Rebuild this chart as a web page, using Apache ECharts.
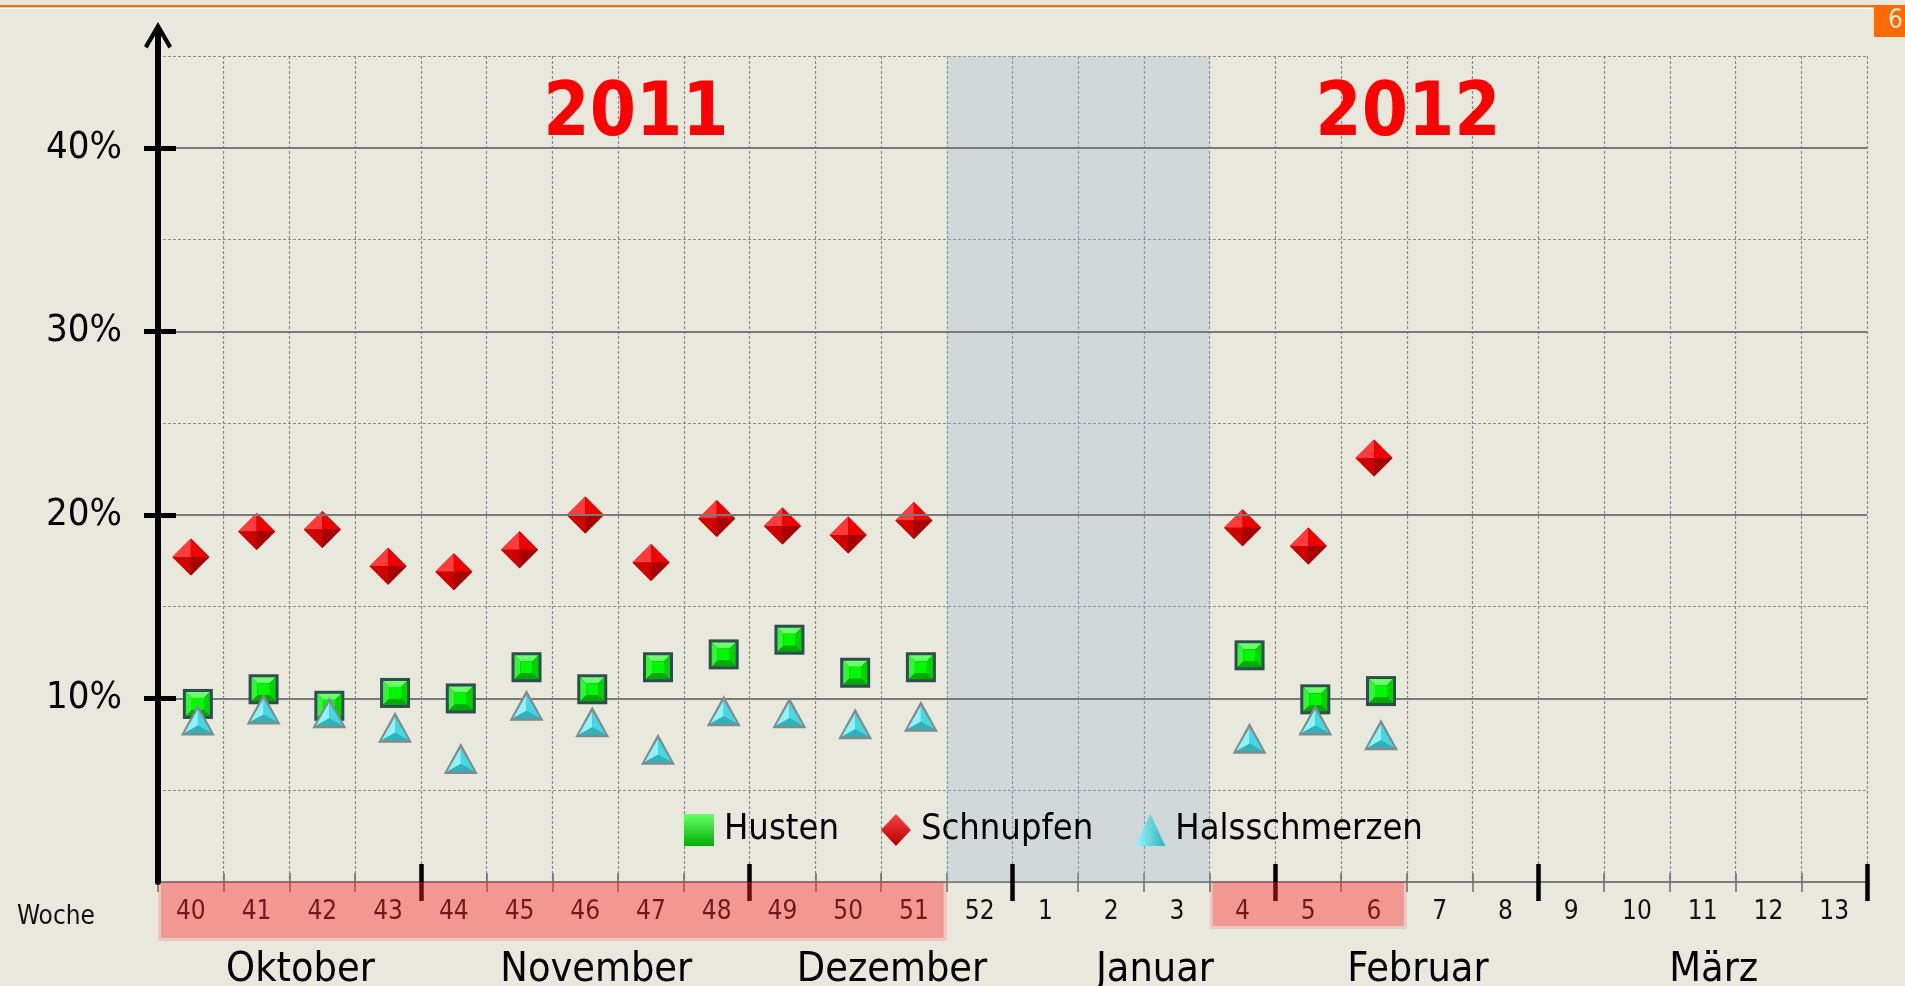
<!DOCTYPE html>
<html>
<head>
<meta charset="utf-8">
<script src="https://cdn.jsdelivr.net/npm/echarts@6/dist/echarts.min.js"></script>
<style>
  html, body { margin: 0; padding: 0; background: #e9e8dd; }
  #chart { width: 1905px; height: 986px; }
</style>
</head>
<body>
<div id="chart"></div>
<script>
// Kalenderwochen Oktober 2011 - März 2012
const weeks = ['40', '41', '42', '43', '44', '45', '46', '47', '48', '49', '50', '51', '52',
  '1', '2', '3', '4', '5', '6', '7', '8', '9', '10', '11', '12', '13']
const months = ['Oktober', 'November', 'Dezember', 'Januar', 'Februar', 'März']
// index of the week where each month starts (last entry = end of axis)
const monthStarts = [0, 4, 9, 13, 17, 21, 26]
const holidays = [12, 16] // weeks 52 .. 3
const surveyRanges = [[0, 12], [16, 19]] // weeks 40-51 and 4-6
const yTicks = [10, 20, 30, 40]

// Anteile in %
const husten = [9.7, 10.5, 9.6, 10.3, 10.0, 11.7, 10.5, 11.7, 12.4, 13.2, 11.4, 11.7,
  null, null, null, null, 12.35, 9.95, 10.4, null, null, null, null, null, null, null]
const schnupfen = [17.7, 19.1, 19.2, 17.2, 16.9, 18.1, 20.0, 17.4, 19.8, 19.4, 18.9, 19.7,
  null, null, null, null, 19.3, 18.3, 23.1, null, null, null, null, null, null, null]
const halsschmerzen = [8.8, 9.4, 9.2, 8.4, 6.7, 9.6, 8.7, 7.2, 9.3, 9.2, 8.6, 9.0,
  null, null, null, null, 7.8, 8.8, 8.0, null, null, null, null, null, null, null]

const FONT = "'DejaVu Sans Condensed', 'DejaVu Sans', sans-serif"

function toPoints(values) {
  const out = []
  values.forEach((v, i) => { if (v != null) out.push([i, v]) })
  return out
}

function poly(points, fill) {
  return { type: 'polygon', shape: { points }, style: { fill } }
}

// beveled green square
function renderSquare(params, api) {
  const p = api.coord([api.value(0), api.value(1)])
  const x = p[0] + 7, y = p[1]
  const o = 12, i = 6
  return {
    type: 'group',
    children: [
      { type: 'rect', shape: { x: x - 15, y: y - 15, width: 30, height: 30 }, style: { fill: '#2f4c50' } },
      poly([[x - o, y - o], [x + o, y - o], [x + i, y - i], [x - i, y - i]], '#6cff6c'),
      poly([[x - o, y - o], [x - i, y - i], [x - i, y + i], [x - o, y + o]], '#33f533'),
      poly([[x + o, y - o], [x + o, y + o], [x + i, y + i], [x + i, y - i]], '#00d400'),
      poly([[x - o, y + o], [x - i, y + i], [x + i, y + i], [x + o, y + o]], '#00aa00'),
      { type: 'rect', shape: { x: x - i, y: y - i, width: 2 * i, height: 2 * i }, style: { fill: '#00f800' } }
    ]
  }
}

// red pyramid diamond
function renderDiamond(params, api) {
  const p = api.coord([api.value(0), api.value(1)])
  const x = p[0], y = p[1], r = 18.5
  const top = [x, y - r], right = [x + r, y], bottom = [x, y + r], left = [x - r, y], c = [x, y]
  return {
    type: 'group',
    children: [
      poly([top, right, bottom, left], '#a00000'),
      poly([top, c, left], '#ff3b3b'),
      poly([top, right, c], '#f00000'),
      poly([left, c, bottom], '#d00000'),
      poly([c, right, bottom], '#a80000')
    ]
  }
}

// cyan pyramid triangle
function renderTriangle(params, api) {
  const p = api.coord([api.value(0), api.value(1)])
  const x = p[0] + 7, y = p[1]
  const apex = [x, y - 16], bl = [x - 17, y + 15], br = [x + 17, y + 15]
  const ia = [x, y - 11], il = [x - 13.5, y + 12.5], ir = [x + 13.5, y + 12.5], c = [x, y + 5]
  return {
    type: 'group',
    children: [
      poly([apex, bl, br], '#7f8b8c'),
      poly([ia, c, il], '#8ff4fa'),
      poly([ia, ir, c], '#44d8e4'),
      poly([il, c, ir], '#30b2bc')
    ]
  }
}

const grad = (c1, c2, vertical) => ({
  type: 'linear', x: 0, y: 0, x2: vertical ? 0 : 1, y2: vertical ? 1 : 0,
  colorStops: [{ offset: 0, color: c1 }, { offset: 1, color: c2 }]
})

const dashed = { show: true, lineStyle: { color: '#8a8a8a', width: 1.2, type: [3, 2] } }

const option = {
  animation: false,
  backgroundColor: '#e9e8dd',
  textStyle: { fontFamily: FONT },
  grid: [
    { left: 158, right: 38, top: 56, bottom: 104, outerBoundsMode: 'none', containLabel: false },
    { left: 158, right: 38, top: 36, bottom: 104, outerBoundsMode: 'none', containLabel: false }
  ],
  legend: {
    left: 679,
    top: 807,
    itemWidth: 30,
    itemHeight: 32,
    itemGap: 42,
    selectedMode: false,
    textStyle: { fontFamily: FONT, fontSize: 36, color: '#000', padding: [0, 0, 0, 5] },
    data: [
      { name: 'Husten', icon: 'rect', itemStyle: { color: grad('#66ff66', '#00b000', true) } },
      { name: 'Schnupfen', icon: 'diamond', itemStyle: { color: grad('#ff4040', '#b00000', true) } },
      { name: 'Halsschmerzen', icon: 'triangle', itemStyle: { color: grad('#9af6fb', '#2fb4bc', false) } }
    ]
  },
  xAxis: [
    {
      type: 'category', gridIndex: 0, position: 'bottom', data: weeks,
      name: 'Woche', nameLocation: 'start', nameGap: 63,
      nameTextStyle: { fontFamily: FONT, fontSize: 26, color: '#111', verticalAlign: 'top', padding: [22, 0, 0, 0] },
      axisLine: { onZero: false, lineStyle: { color: '#7c7c7c', width: 2 } },
      axisTick: { show: true, interval: 0, length: 10, lineStyle: { color: '#6a6a6a', width: 1.5 } },
      axisLabel: { interval: 0, fontFamily: FONT, fontSize: 26, color: '#111', margin: 17 },
      splitLine: { ...dashed, interval: 0 }
    },
    {
      type: 'category', gridIndex: 0, position: 'bottom', data: weeks,
      axisLine: { show: false, onZero: false },
      axisTick: { show: true, inside: true, interval: 0, length: 9, lineStyle: { color: '#6a6a6a', width: 1.5 } },
      axisLabel: { show: false },
      splitLine: { show: false }
    },
    {
      type: 'value', gridIndex: 0, position: 'bottom', offset: -18, z: 10,
      min: monthStarts[0], max: monthStarts[monthStarts.length - 1],
      axisLine: { show: false, onZero: false },
      axisTick: { show: true, customValues: monthStarts.slice(1), length: 37, lineStyle: { color: '#000', width: 4.5 } },
      axisLabel: {
        customValues: months.map((m, i) => (monthStarts[i] + monthStarts[i + 1]) / 2),
        formatter: v => months[monthStarts.findIndex((s, i) => v > s && v < monthStarts[i + 1])],
        fontFamily: FONT, fontSize: 41, color: '#000', margin: 86, padding: [0, 0, 0, 22]
      },
      splitLine: { show: false }
    },
    { type: 'value', gridIndex: 1, show: false, min: 0, max: 1 }
  ],
  yAxis: [
    {
      type: 'value', gridIndex: 0, position: 'left', min: 0, max: 45, interval: 5,
      axisLine: { show: false, onZero: false }, axisTick: { show: false }, axisLabel: { show: false },
      splitLine: dashed
    },
    {
      type: 'value', gridIndex: 0, position: 'left', min: 0, max: 45, interval: 10, z: 10,
      axisLine: { show: false, onZero: false },
      axisTick: { show: true, customValues: yTicks, length: 14, lineStyle: { color: '#000', width: 5 } },
      axisLabel: { customValues: yTicks, formatter: '{value}%', fontFamily: FONT, fontSize: 38, color: '#000', margin: 36 },
      splitLine: { show: false }
    },
    {
      type: 'value', gridIndex: 0, position: 'left', min: 0, max: 45, interval: 10, z: 10,
      axisLine: { show: false, onZero: false },
      axisTick: { show: true, inside: true, customValues: yTicks, length: 18, lineStyle: { color: '#000', width: 5 } },
      axisLabel: { show: false },
      splitLine: { show: false }
    },
    {
      type: 'value', gridIndex: 1, position: 'left', min: 0, max: 1, z: 10,
      axisLine: {
        show: true, onZero: false,
        symbol: ['none', 'path://M14,0 L28,24 L24.5,26.5 L16,12 L16,28 L12,28 L12,12 L3.5,26.5 L0,24 Z'],
        symbolSize: [29, 28],
        lineStyle: { color: '#000', width: 6 }
      },
      axisTick: { show: false }, axisLabel: { show: false }, splitLine: { show: false }
    }
  ],
  series: [
    {
      name: 'raster', type: 'scatter', xAxisIndex: 2, yAxisIndex: 0, data: [], silent: true,
      markArea: {
        silent: true,
        itemStyle: { color: 'rgba(150,180,210,0.29)' },
        data: [[{ xAxis: holidays[0] }, { xAxis: holidays[1] }]]
      },
      markLine: {
        silent: true, symbol: 'none', label: { show: false },
        lineStyle: { color: '#7a7a7a', width: 2, type: 'solid' },
        data: yTicks.map(v => ({ yAxis: v }))
      }
    },
    {
      name: 'Husten', type: 'custom', xAxisIndex: 0, yAxisIndex: 0, z: 5,
      renderItem: renderSquare, data: toPoints(husten)
    },
    {
      name: 'Schnupfen', type: 'custom', xAxisIndex: 0, yAxisIndex: 0, z: 4,
      renderItem: renderDiamond, data: toPoints(schnupfen)
    },
    {
      name: 'Halsschmerzen', type: 'custom', xAxisIndex: 0, yAxisIndex: 0, z: 6,
      renderItem: renderTriangle, data: toPoints(halsschmerzen)
    }
  ]
}

const chart = echarts.init(document.getElementById('chart'))
chart.setOption(option)

// decorations which depend on the axis scale
const px = v => chart.convertToPixel({ xAxisIndex: 2 }, v)
const base = chart.convertToPixel({ yAxisIndex: 0 }, 0)
const depths = [59, 47]
const graphic = [
  { id: 'bar', type: 'rect', shape: { x: 0, y: 5, width: 1874, height: 2.5 }, style: { fill: '#ff6a00' } },
  { id: 'barw', type: 'rect', shape: { x: 0, y: 7.5, width: 1874, height: 1.5 }, style: { fill: '#ffffff' } },
  { id: 'pg', type: 'rect', shape: { x: 1874, y: 5, width: 31, height: 32 }, style: { fill: '#ff6a00' } },
  {
    id: 'pgn', type: 'text', x: 1903, y: 21,
    style: { text: '6', fill: '#fde6d6', font: '26px ' + FONT, textAlign: 'right', textVerticalAlign: 'middle' }
  },
  {
    id: 'y2011', type: 'text', x: 636, y: 116, z: 10,
    style: { text: '2011', fill: '#ff0000', font: 'bold 74px ' + FONT, textAlign: 'center', textVerticalAlign: 'middle' }
  },
  {
    id: 'y2012', type: 'text', x: 1408, y: 116, z: 10,
    style: { text: '2012', fill: '#ff0000', font: 'bold 74px ' + FONT, textAlign: 'center', textVerticalAlign: 'middle' }
  }
]
surveyRanges.forEach((r, k) => {
  const x1 = px(r[0]), x2 = px(r[1])
  graphic.push({
    id: 'po' + k, type: 'rect', z: 100,
    shape: { x: x1, y: base, width: x2 - x1, height: depths[k] },
    style: { fill: 'rgba(255,70,80,0.2)' }
  })
  graphic.push({
    id: 'pi' + k, type: 'rect', z: 101,
    shape: { x: x1 + 3, y: base, width: x2 - x1 - 6, height: depths[k] - 3 },
    style: { fill: 'rgba(255,20,20,0.26)' }
  })
})
chart.setOption({ graphic })
</script>
</body>
</html>
